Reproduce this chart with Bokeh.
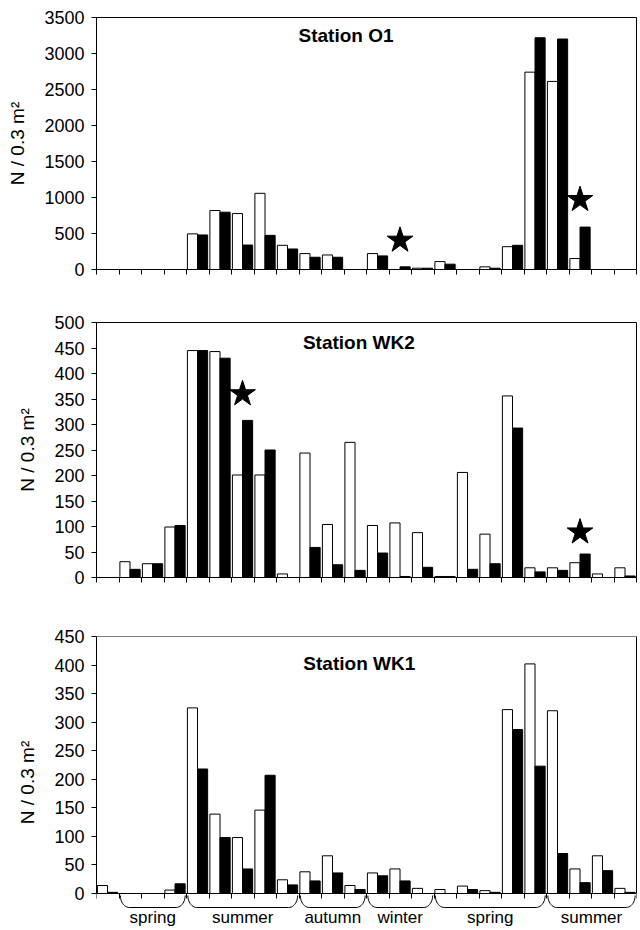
import numpy as np
from bokeh.plotting import figure
from bokeh.layouts import column
from bokeh.models import Range1d, FixedTicker, Label, LinearAxis
from bokeh.core.properties import value
from bokeh.embed import file_html
from bokeh.resources import INLINE

# ---------------- data ----------------
n_samples = 24
o1_white = [0, 0, 0, 0, 495, 819, 777, 1058, 336, 221, 202, 0, 221, 0, 18, 110, 0, 37, 317, 2741, 2612, 152, 0, 0]
o1_black = [0, 0, 0, 0, 480, 796, 340, 474, 285, 170, 170, 0, 189, 37, 18, 74, 0, 18, 336, 3219, 3201, 589, 0, 0]
o1_star_cat = [13, 21]
o1_star_y = [405, 970]

wk2_white = [0, 31, 27, 99, 445, 443, 201, 201, 7, 244, 104, 265, 102, 107, 88, 2, 206, 85, 356, 19, 19, 29, 7, 19]
wk2_black = [0, 16, 27, 102, 445, 430, 308, 250, 0, 59, 25, 14, 48, 2, 20, 2, 16, 27, 293, 11, 14, 46, 0, 3]
wk2_star_cat = [6, 21]
wk2_star_y = [360, 89]

wk1_white = [14, 0, 0, 6, 325, 139, 98, 146, 24, 38, 66, 14, 36, 43, 9, 7, 13, 5, 322, 402, 320, 43, 66, 9]
wk1_black = [2, 0, 0, 17, 218, 98, 43, 207, 15, 22, 36, 7, 31, 22, 0, 0, 7, 2, 287, 223, 70, 19, 40, 2]
wk1_star_cat = []
wk1_star_y = []

o1_yticks = [0, 500, 1000, 1500, 2000, 2500, 3000, 3500]
wk2_yticks = [0, 50, 100, 150, 200, 250, 300, 350, 400, 450, 500]
wk1_yticks = [0, 50, 100, 150, 200, 250, 300, 350, 400, 450]

season_names = ["spring", "summer", "autumn", "winter", "spring", "summer"]
season_start = [1, 4, 9, 12, 15, 20]
season_end = [4, 9, 12, 15, 20, 24]

titles = ["Station O1", "Station WK2", "Station WK1"]
ylabel = "N / 0.3 m\u00b2"

FONT = "Liberation Sans"
TICK_FS = "18px"
LAB_FS = "19px"
TITLE_FS = "19px"
SEASON_FS = "17px"

# bar geometry within a sample slot
BAR_OFF = 0.04
BAR_W = 0.45

W = 640
LEFT = 96
RIGHT = 4

sample_edges = list(range(n_samples + 1))


def style_xaxis(xa):
    # tick marks at sample boundaries, no labels (minor ticks carry no labels)
    xa.ticker = FixedTicker(ticks=[], minor_ticks=sample_edges)
    xa.minor_tick_in = 0
    xa.minor_tick_out = 5
    xa.minor_tick_line_color = "black"
    xa.major_tick_line_color = None
    xa.axis_line_color = "black"
    xa.major_label_standoff = 0


def style_yaxis(ya, yticks):
    ya.ticker = FixedTicker(ticks=yticks)
    ya.major_tick_in = 0
    ya.major_tick_out = 5
    ya.minor_tick_line_color = None
    ya.axis_line_color = "black"
    ya.major_tick_line_color = "black"
    ya.major_label_text_font = FONT
    ya.major_label_text_font_size = TICK_FS
    ya.major_label_text_color = "black"
    ya.major_label_standoff = 7
    ya.axis_label = ylabel
    ya.axis_label_text_font = FONT
    ya.axis_label_text_font_size = LAB_FS
    ya.axis_label_text_font_style = "normal"
    ya.axis_label_text_color = "black"
    ya.axis_label_standoff = 13


def draw_bars(p, white, black, star_cat, star_y):
    cats = np.arange(n_samples)
    p.vbar(x=cats + BAR_OFF + BAR_W / 2, top=white, width=BAR_W, bottom=0,
           fill_color="white", line_color="black", line_width=1)
    p.vbar(x=cats + BAR_OFF + 1.5 * BAR_W, top=black, width=BAR_W, bottom=0,
           fill_color="black", line_color="black", line_width=1)
    if star_cat:
        p.scatter(x=np.array(star_cat) + BAR_OFF + BAR_W, y=star_y, marker="star",
                  size=27, fill_color="black", line_color="black")


def add_title(p, text, x, y):
    p.add_layout(Label(x=x, y=y, text=text, text_font=FONT,
                       text_font_size=TITLE_FS, text_font_style="bold", text_align="center",
                       text_baseline="middle", text_color="black"))


def make_panel(white, black, yticks, star_cat, star_y, title, height, btop, bbot, tx, tfrac):
    p = figure(width=W, height=height, output_backend="svg", toolbar_location=None,
               title_location=None,
               x_range=Range1d(0, n_samples), y_range=Range1d(yticks[0], yticks[-1]),
               min_border_left=LEFT, min_border_right=RIGHT, min_border_top=btop,
               min_border_bottom=bbot)
    p.background_fill_color = "white"
    p.border_fill_color = "white"
    p.outline_line_color = "black"
    p.outline_line_width = 1
    p.xgrid.visible = False
    p.ygrid.visible = False
    draw_bars(p, white, black, star_cat, star_y)
    style_xaxis(p.xaxis[0])
    style_yaxis(p.yaxis[0], yticks)
    add_title(p, title, tx, yticks[-1] * tfrac)
    return p


p1 = make_panel(o1_white, o1_black, o1_yticks, o1_star_cat, o1_star_y, titles[0],
                308, 17, 39, 11.09, 0.929)
p2 = make_panel(wk2_white, wk2_black, wk2_yticks, wk2_star_cat, wk2_star_y, titles[1],
                306, 14, 37, 11.66, 0.921)

# ---- third panel: range extends below zero to hold the season braces ----
H3 = 314
TOP3 = 22
frame3 = H3 - TOP3              # frame height in px
zero_px_from_top = 257          # px from frame top to the zero line
ymax3 = wk1_yticks[-1]
upp = ymax3 / zero_px_from_top  # data units per pixel
ylo3 = -(frame3 - zero_px_from_top) * upp

p3 = figure(width=W, height=H3, output_backend="svg", toolbar_location=None,
            title_location=None, x_axis_location=None,
            x_range=Range1d(0, n_samples), y_range=Range1d(ylo3, ymax3),
            min_border_left=LEFT, min_border_right=RIGHT, min_border_top=TOP3,
            min_border_bottom=0)
p3.background_fill_color = "white"
p3.border_fill_color = "white"
p3.outline_line_color = None
p3.xgrid.visible = False
p3.ygrid.visible = False
draw_bars(p3, wk1_white, wk1_black, wk1_star_cat, wk1_star_y)
style_yaxis(p3.yaxis[0], wk1_yticks)
p3.yaxis[0].bounds = (0, ymax3)

# x axis at y = 0 with ticks pointing down (into the extended frame)
xa3 = LinearAxis(fixed_location=0, ticker=FixedTicker(ticks=[], minor_ticks=sample_edges),
                 major_tick_line_color=None, minor_tick_in=5, minor_tick_out=0,
                 minor_tick_line_color="black", major_label_standoff=0,
                 axis_line_color="black")
p3.add_layout(xa3, "above")
# top border
top3 = LinearAxis(fixed_location=ymax3, ticker=FixedTicker(ticks=[]),
                  major_tick_in=0, major_tick_out=0, minor_tick_line_color=None,
                  major_tick_line_color=None, major_label_standoff=0,
                  axis_line_color="black")
p3.add_layout(top3, "above")
# right border
right3 = LinearAxis(bounds=(0, ymax3), ticker=FixedTicker(ticks=[]),
                    major_tick_in=0, major_tick_out=0, minor_tick_line_color=None,
                    major_tick_line_color=None, major_label_standoff=0,
                    axis_line_color="black")
p3.add_layout(right3, "right")
add_title(p3, titles[2], 11.68, ymax3 * 0.895)

# season braces
yt = -2 * upp
yb = -14 * upp
rx = 0.4
inset = 0.06
t = np.linspace(0, np.pi / 2, 12)
bx, by = [], []
for a, b in zip(season_start, season_end):
    xl, xr = a + inset, b - inset
    lx = xl + rx - rx * np.cos(t)
    ly = yb + (yt - yb) * (1 - np.sin(t))
    rxs = xr - rx + rx * np.sin(t)
    rys = yb + (yt - yb) * (1 - np.cos(t))
    bx.append(list(lx) + list(rxs))
    by.append(list(ly) + list(rys))
p3.multi_line(xs=bx, ys=by, line_color="black", line_width=1)

centers = [(a + b) / 2 for a, b in zip(season_start, season_end)]
p3.text(x=centers, y=[-24 * upp] * len(centers), text=season_names,
        text_font=value(FONT), text_font_size=SEASON_FS, text_align="center",
        text_baseline="middle", text_color="black")

layout = column(p1, p2, p3, spacing=0)
open("out.html", "w").write(file_html(layout, INLINE))
